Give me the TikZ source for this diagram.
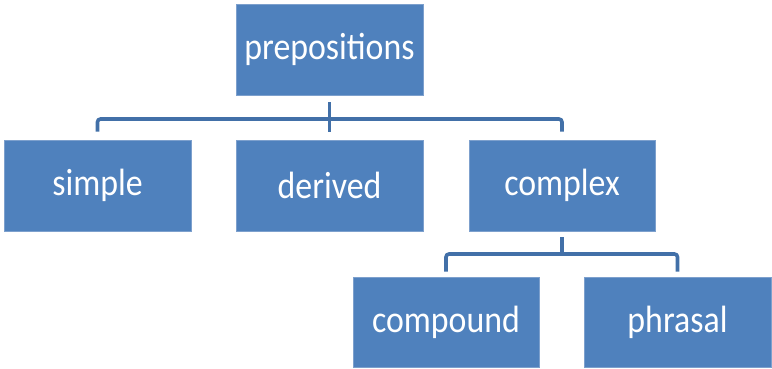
\documentclass[tikz,border=0pt]{standalone}
\usepackage{fontspec}
\setmainfont{Carlito}
\newfontfamily\boxfont[FakeStretch=0.89]{Carlito}
\usetikzlibrary{calc}
\definecolor{boxfill}{RGB}{79,129,189}
\definecolor{boxedge}{RGB}{125,160,205}
\definecolor{linkcol}{RGB}{66,112,168}
\begin{document}
\begin{tikzpicture}[x=1pt,y=-1pt,
  catbox/.style={rectangle, fill=boxfill, draw=boxedge, line width=0.8pt,
    minimum height=91pt, inner sep=0pt, text=white,
    font=\boxfont\fontsize{38}{40}\selectfont},
  link/.style={draw=linkcol, line width=3.6pt, rounded corners=3pt}]
\useasboundingbox (0,0) rectangle (772,368);
% boxes
\node[catbox, minimum width=187pt] (prep) at (329.5,49.5) {prepositions};
\node[catbox, minimum width=187pt] (simple) at (97.5,185.5) {simple};
\node[catbox, minimum width=187pt] (derived) at (329.5,185.5) {derived};
\node[catbox, minimum width=186pt] (complex) at (562,185.5) {complex};
\node[catbox, minimum width=186pt, minimum height=90pt] (compound) at (446,322) {compound};
\node[catbox, minimum width=187pt, minimum height=90pt] (phrasal) at (677.5,322) {phrasal};
% upper bracket
\coordinate (bar1) at (329.5,119);
\draw[link] ([yshift=-7pt]prep.south) -- ([yshift=8pt]derived.north);
\draw[link] (bar1) -| ([yshift=8pt]simple.north);
\draw[link] (bar1) -| ([yshift=8pt]complex.north);
% lower bracket
\coordinate (bar2) at (562,254);
\draw[link] ([yshift=-6pt]complex.south) -- (bar2);
\draw[link] (bar2) -| ([yshift=5pt]compound.north);
\draw[link] (bar2) -| ([yshift=5pt]phrasal.north);
\end{tikzpicture}
\end{document}
